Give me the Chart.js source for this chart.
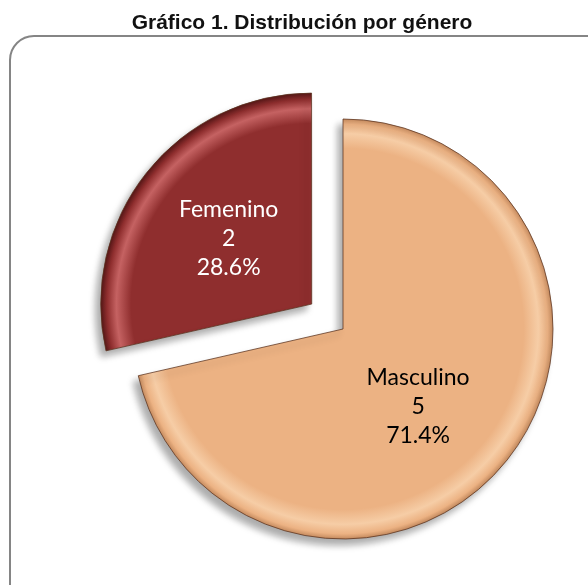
<!DOCTYPE html>
<html>
<head>
<meta charset="utf-8">
<script src="https://cdn.jsdelivr.net/npm/chart.js@4/dist/chart.umd.min.js"></script>
<style>
  html, body { margin: 0; padding: 0; background: #fff; overflow: hidden; }
  #wrap { position: relative; width: 588px; height: 585px; }
  #frame { position: absolute; left: 9px; top: 35px; width: 640px; height: 640px;
           border: 2px solid #858585; border-radius: 25px; box-sizing: border-box; }
  #title { position: absolute; left: 8px; top: 10px; width: 588px; line-height: 24px; text-align: center;
           font: bold 21px "Liberation Sans", Arial, sans-serif; color: #111; white-space: nowrap; }
  #chart { position: absolute; left: 0; top: 0; }
</style>
</head>
<body>
<div id="wrap">
  <div id="frame"></div>
  <canvas id="chart" width="588" height="585"></canvas>
  <div id="title">Gráfico 1. Distribución por género</div>
</div>
<script>
// data of the pie
const categories = ["Masculino", "Femenino"];
const counts = [5, 2];
const sliceColors = ["#ECB283", "#8F2E2E"];
const rimColors = ["#F6CDA6", "#C56262"];
const edgeColors = ["#C48A5E", "#5E1A1A"];
const labelColors = ["#000000", "#FFFFFF"];
const sliceOffsets = [0, 160];   // Femenino pulled out of the pie

// where the pie sits on the page
const pieX = 343, pieY = 329, pieRadius = 210;

function percentOf (value) {
    let total = counts.reduce((a, b) => a + b, 0);
    return (value / total * 100).toFixed(1) + "%"; }

// bevel-like gradient + soft shadow under the slices, then the data labels
const shadePlugin = {
    id: "shade",
    beforeDatasetsDraw (chart) {
        let ctx = chart.ctx;
        chart.getDatasetMeta(0).data.forEach((arc, i) => {
            let g = ctx.createRadialGradient(arc.x, arc.y, 0, arc.x, arc.y, arc.outerRadius);
            g.addColorStop(0, sliceColors[i]);
            g.addColorStop(0.86, sliceColors[i]);
            g.addColorStop(0.93, rimColors[i]);
            g.addColorStop(0.975, sliceColors[i]);
            g.addColorStop(1, edgeColors[i]);
            arc.options = Object.assign({}, arc.options, {backgroundColor: g}); });
        ctx.save();
        ctx.shadowColor = "rgba(0,0,0,0.33)";
        ctx.shadowBlur = 7;
        ctx.shadowOffsetX = -5;
        ctx.shadowOffsetY = 6; },
    afterDatasetsDraw (chart, args, opts) {
        let ctx = chart.ctx;
        ctx.restore();
        ctx.save();
        ctx.font = "23px Lato, 'Open Sans', sans-serif";
        ctx.textAlign = "center";
        ctx.textBaseline = "middle";
        chart.getDatasetMeta(0).data.forEach((arc, i) => {
            let mid = (arc.startAngle + arc.endAngle) / 2;
            let shift = (arc.options.offset || 0) / 4;
            let dist = shift + arc.outerRadius * 0.5;
            let nudge = opts.nudge[i] || [0, 0];
            let x = arc.x + Math.cos(mid) * dist + nudge[0];
            let y = arc.y + Math.sin(mid) * dist + nudge[1];
            ctx.fillStyle = labelColors[i];
            let lines = [categories[i], String(counts[i]), percentOf(counts[i])];
            lines.forEach((t, k) => ctx.fillText(t, x, y + (k - 1) * 29)); });
        ctx.restore(); }
};

// chart area centred on the pie centre
const half = pieRadius + 10;
new Chart("chart", {
    type: "pie",
    data: {
        labels: categories,
        datasets: [{
            data: counts,
            backgroundColor: sliceColors,
            borderColor: "rgba(90,50,30,0.75)",
            borderWidth: 1,
            offset: sliceOffsets,
            hoverOffset: 0,
            clip: false
        }]
    },
    options: {
        responsive: false,
        animation: false,
        events: [],
        radius: pieRadius,
        layout: { padding: { left: pieX - half, right: 588 - pieX - half, top: pieY - half, bottom: 585 - pieY - half } },
        plugins: {
            legend: { display: false },
            tooltip: { enabled: false },
            title: { display: false },
            shade: { nudge: [[-7, 12], [-1, 0]] }
        }
    },
    plugins: [shadePlugin]
});
</script>
</body>
</html>
